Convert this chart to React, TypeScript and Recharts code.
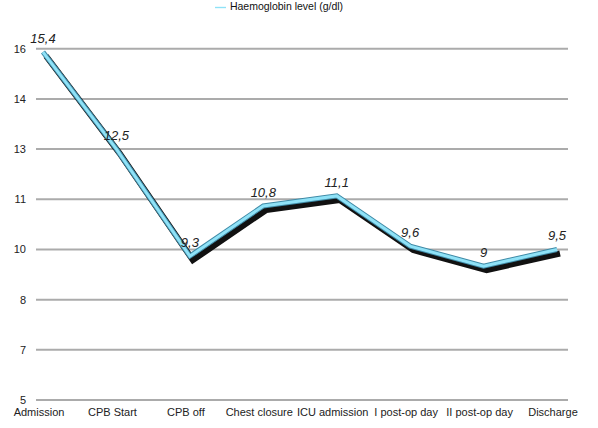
import React from 'react';
import { LineChart, Line, XAxis, YAxis, CartesianGrid, Legend, LabelList } from 'recharts';

// Perioperative haemoglobin course
const stages = [
  'Admission',
  'CPB Start',
  'CPB off',
  'Chest closure',
  'ICU admission',
  'I post-op day',
  'II post-op day',
  'Discharge',
];
const haemoglobin = [15.4, 12.5, 9.3, 10.8, 11.1, 9.6, 9, 9.5];

// Axis ticks sit every 1.5 g/dl; their labels are shown rounded
const yTicks = [5, 6.5, 8, 9.5, 11, 12.5, 14, 15.5];
const yTickLabels = ['5', '7', '8', '10', '11', '13', '14', '16'];

const data = stages.map((stage, i) => ({ stage, hb: haemoglobin[i] }));

const FONT = '"Liberation Sans", Arial, Helvetica, sans-serif';

const formatComma = (v: number | string) => String(v).replace('.', ',');

export default function App() {
  return (
    <div style={{ position: 'absolute', left: 0, top: 0, width: 598, height: 428, background: '#fff' }}>
      <style>{`.hb-shadow { transform: translate(3px, 4px); }`}</style>
      <LineChart
        width={598}
        height={428}
        data={data}
        margin={{ top: 36, right: 30, bottom: 0, left: 0 }}
        style={{ fontFamily: FONT }}
      >
        <CartesianGrid vertical={false} stroke="#ababab" strokeWidth={2} />
        <XAxis
          dataKey="stage"
          axisLine={false}
          tickLine={false}
          tickSize={0}
          tickMargin={8}
          height={28}
          interval={0}
          padding={{ left: 7, right: 11 }}
          tick={{ fontSize: 11, fill: '#222', fontFamily: FONT, dx: -4 }}
        />
        <YAxis
          domain={[5, 15.5]}
          ticks={yTicks}
          tickFormatter={(_v: number, i: number) => yTickLabels[i]}
          axisLine={false}
          tickLine={false}
          tickSize={0}
          tickMargin={10}
          width={36}
          tick={{ fontSize: 11, fill: '#222', fontFamily: FONT }}
        />
        <Legend
          verticalAlign="top"
          align="center"
          iconType="plainline"
          iconSize={11}
          wrapperStyle={{ top: 0, fontSize: 10.5, fontFamily: FONT, color: '#111' }}
          formatter={(value: string) => <span style={{ color: '#111' }}>{value}</span>}
        />
        <Line
          className="hb-shadow"
          dataKey="hb"
          stroke="#111"
          strokeWidth={6}
          dot={false}
          activeDot={false}
          legendType="none"
          isAnimationActive={false}
        />
        <Line
          dataKey="hb"
          stroke="#3f8aa6"
          strokeWidth={5}
          dot={false}
          activeDot={false}
          legendType="none"
          isAnimationActive={false}
        />
        <Line
          dataKey="hb"
          name="Haemoglobin level (g/dl)"
          stroke="#8fe2f7"
          strokeWidth={3}
          dot={false}
          activeDot={false}
          isAnimationActive={false}
        >
          <LabelList
            dataKey="hb"
            position="top"
            offset={9}
            formatter={formatComma}
            style={{ fontSize: 13, fontStyle: 'italic', fill: '#222', fontFamily: FONT }}
          />
        </Line>
      </LineChart>
    </div>
  );
}
